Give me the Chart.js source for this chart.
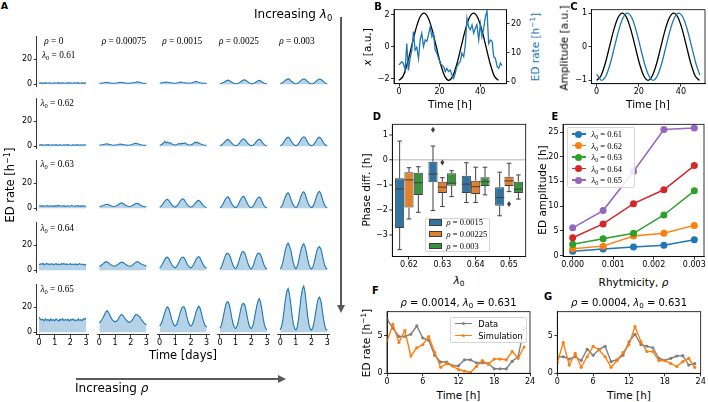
<!DOCTYPE html>
<html>
<head>
<meta charset="utf-8">
<title>ED rate model figure</title>
<script src="https://cdn.jsdelivr.net/npm/chart.js@4.4.1/dist/chart.umd.min.js"></script>
<style>
  html, body { margin: 0; padding: 0; background: #fff; }
  #fig { position: relative; width: 708px; height: 402px; overflow: hidden; font-family: "DejaVu Sans", sans-serif; color: #000; }
  #fig canvas { position: absolute; }
  .t { position: absolute; white-space: nowrap; line-height: 1; }
  .t sub { font-size: 70%; vertical-align: -0.3em; line-height: 0; }
  .t sup { font-size: 70%; vertical-align: 0.5em; line-height: 0; }
  .serif { font-family: "Liberation Serif", "DejaVu Serif", serif; }
  .lg { position: absolute; border: 1px solid #d5d5d5; border-radius: 2px; background: rgba(255,255,255,0.85); box-sizing: border-box; }
  .shape { position: absolute; box-sizing: border-box; }
</style>
</head>
<body>
<div id="fig"></div>
<script>
// ====================== DATA ======================
// Panel A: simulated ED rate [1/h] over 3 days (samples every 2 h)
const aRhoValues = ['0', '0.00075', '0.0015', '0.0025', '0.003'];
const aLambdaValues = ['0.61', '0.62', '0.63', '0.64', '0.65'];
const aHours = [0,2,4,6,8,10,12,14,16,18,20,22,24,26,28,30,32,34,36,38,40,42,44,46,48,50,52,54,56,58,60,62,64,66,68,70,72];
const aTickDays = [0, 1, 2, 3];
const aTickRate = [0, 20];

const edRateL061 = [
  [1.0,1.2,0.8,1.1,0.9,1.3,1.0,0.8,1.2,1.1,0.9,1.0, 1.2,0.9,1.1,1.3,0.8,1.0,1.2,1.1,0.9,1.0,1.3,0.9, 1.1,1.0,0.8,1.2,1.0,1.1,1.3,0.9,1.0,1.2,0.8,1.1, 1.0],
  [0.8,0.9,1.0,1.1,1.3,1.4,1.5,1.3,1.1,1.0,0.9,0.8, 0.9,1.0,1.2,1.4,1.6,1.5,1.4,1.2,1.0,0.9,0.8,0.9, 1.0,1.1,1.3,1.5,1.7,2.0,1.8,1.5,1.2,1.0,0.9,0.8, 0.7],
  [0.9,1.0,1.2,1.4,1.6,1.8,1.7,1.5,1.3,1.1,1.0,0.9, 0.9,1.0,1.2,1.5,1.7,1.6,1.4,1.3,1.1,1.0,0.9,1.0, 1.1,1.3,1.6,2.0,2.3,1.9,1.6,1.3,1.1,1.0,0.9,0.8, 0.7],
  [0.6,0.8,1.2,1.7,2.3,2.9,3.3,3.0,2.4,1.7,1.1,0.7, 0.5,0.6,0.9,1.4,2.1,2.8,3.4,3.6,3.1,2.3,1.5,0.8, 0.5,0.5,0.8,1.3,2.0,2.6,3.1,2.8,2.1,1.4,0.9,0.6, 0.5],
  [0.5,0.8,1.4,2.3,3.2,3.9,4.5,4.0,3.0,2.0,1.2,0.6, 0.4,0.6,1.2,2.1,3.1,3.9,4.4,4.1,3.2,2.2,1.3,0.7, 0.4,0.6,1.1,1.9,2.9,3.7,4.2,4.0,3.3,2.3,1.3,0.7, 0.4]
];
const edRateL062 = [
  [1.2,1.0,1.3,1.1,0.9,1.2,1.0,1.3,1.1,0.9,1.2,1.0, 1.1,1.3,0.9,1.1,1.2,1.0,0.9,1.2,1.1,1.0,1.3,1.1, 0.9,1.0,1.2,1.1,0.9,1.3,1.0,1.1,1.2,0.9,1.1,1.0, 1.2],
  [1.0,1.1,1.2,1.4,1.6,1.8,1.9,1.7,1.5,1.2,1.0,0.9, 1.0,1.1,1.3,1.6,1.8,1.7,1.5,1.3,1.1,1.0,0.9,1.0, 1.2,1.5,1.9,2.2,2.4,2.1,1.8,1.5,1.2,1.0,0.9,0.8, 0.9],
  [0.9,1.2,1.8,2.6,3.9,2.8,3.4,2.5,3.0,2.0,1.6,1.3, 1.1,1.4,1.9,2.2,1.8,2.5,2.1,2.8,2.3,1.7,1.3,1.1, 1.2,1.6,2.2,3.5,2.6,3.3,2.7,2.1,1.6,1.2,1.0,0.9, 0.8],
  [0.5,0.9,1.7,2.8,4.0,5.0,5.5,4.9,3.7,2.5,1.5,0.8, 0.5,0.7,1.5,2.8,4.2,5.3,6.0,5.5,4.2,2.8,1.6,0.8, 0.5,0.7,1.4,2.6,3.9,5.0,5.6,5.2,3.8,2.4,1.3,0.7, 0.4],
  [0.5,1.0,2.2,3.8,5.4,6.7,7.3,6.5,4.8,3.1,1.7,0.8, 0.5,0.9,2.1,3.9,5.6,7.0,7.6,7.1,5.3,3.3,1.7,0.8, 0.5,0.8,2.0,3.7,5.4,6.7,7.3,6.6,4.9,3.0,1.6,0.8, 0.5]
];
const edRateL063 = [
  [1.8,2.0,1.6,2.1,1.7,1.9,2.2,1.6,1.8,2.0,1.7,1.9, 1.6,2.1,1.8,2.3,2.0,1.7,1.9,2.1,1.6,1.8,2.0,1.7, 1.9,2.2,1.8,1.6,2.0,1.8,2.1,1.7,1.9,1.6,2.0,1.8, 1.7],
  [1.4,1.6,1.9,2.2,2.6,3.0,3.2,2.9,2.4,2.0,1.7,1.5, 1.6,2.0,2.6,3.3,4.0,4.3,3.9,3.2,2.5,2.0,1.7,1.5, 1.6,2.0,2.6,3.2,3.8,4.0,3.6,2.9,2.2,1.8,1.5,1.3, 1.2],
  [0.8,1.5,2.8,4.3,5.8,6.9,7.2,6.3,4.7,3.2,2.0,1.2, 1.0,1.6,2.9,4.6,6.2,7.3,7.6,6.6,4.8,3.1,1.9,1.2, 1.0,1.4,2.4,3.7,5.0,6.0,6.3,5.6,4.2,2.8,1.7,1.0, 0.7],
  [0.5,1.2,2.8,4.9,7.0,8.6,9.2,8.1,5.9,3.7,2.0,1.0, 0.6,1.2,2.9,5.2,7.5,9.0,9.6,8.5,6.1,3.8,2.0,1.0, 0.6,1.1,2.6,4.8,6.9,8.4,9.1,8.3,6.0,3.6,1.8,0.9, 0.5],
  [0.5,1.4,3.5,6.5,9.4,11.5,12.4,10.8,7.8,4.8,2.5,1.1, 0.6,1.5,3.8,7.0,10.3,12.4,13.2,11.6,8.2,4.9,2.5,1.1, 0.6,1.4,3.6,6.9,10.2,12.6,13.6,12.0,8.5,5.0,2.4,1.0, 0.5]
];
const edRateL064 = [
  [4.5,5.2,4.8,5.6,4.4,5.0,5.5,4.6,5.1,4.7,5.3,4.4, 4.9,5.4,4.6,5.0,4.5,5.3,4.8,5.5,4.6,5.1,4.7,4.9, 5.4,4.5,5.0,4.6,5.2,4.4,4.9,5.3,4.7,5.0,4.4,4.8, 4.1],
  [3.0,3.6,4.4,5.3,6.2,6.9,6.6,6.0,5.1,4.3,3.8,3.4, 3.3,3.8,4.5,5.3,6.0,6.5,6.3,5.7,4.9,4.2,3.7,3.3, 3.4,3.9,4.7,5.6,6.5,7.0,6.4,5.9,5.1,4.6,4.2,3.9, 3.2],
  [2.0,3.0,4.8,6.9,8.8,10.2,10.5,9.4,7.3,5.2,3.5,2.4, 2.0,3.0,4.9,7.1,9.0,10.3,10.6,9.5,7.4,5.2,3.5,2.4, 2.0,2.9,4.7,6.9,9.0,10.5,11.0,9.8,7.5,5.2,3.3,2.2, 1.8],
  [1.0,2.4,5.0,8.3,11.3,13.2,13.6,12.8,10.4,7.0,4.0,2.1, 1.2,2.6,5.6,9.2,12.5,14.6,15.0,13.8,10.8,7.1,4.0,2.0, 1.1,2.4,5.2,8.7,11.8,13.5,13.7,12.6,10.0,6.6,3.6,1.8, 1.0],
  [1.0,2.8,6.5,11.5,16.5,20.2,21.8,19.5,16.8,11.2,6.0,2.7, 1.3,3.0,7.0,12.3,17.0,20.0,21.2,19.0,14.6,9.0,4.5,2.0, 1.1,2.6,6.3,11.0,15.5,18.2,18.8,17.4,13.5,8.4,4.2,1.8, 1.0]
];
const edRateL065 = [
  [12.0,10.6,9.8,10.5,9.2,10.8,9.6,10.3,9.0,10.7,9.5,10.1, 9.3,10.6,9.8,9.1,10.4,9.7,10.9,9.4,10.2,9.6,10.5,9.0, 10.3,9.8,10.6,9.4,10.0,9.2,10.7,9.6,10.1,9.3,10.8,10.2, 11.5],
  [7.5,8.8,10.2,12.0,14.3,16.5,17.4,15.6,13.8,11.5,10.0,9.0, 8.3,8.8,9.8,11.6,13.4,14.3,13.6,12.0,10.5,9.2,8.4,8.0, 8.5,9.6,11.2,13.0,14.4,14.0,13.2,12.3,10.6,9.0,7.8,6.8, 6.0],
  [5.2,6.5,9.0,12.5,16.2,19.0,20.4,19.0,15.6,11.4,8.0,5.8, 5.0,6.3,9.2,13.0,16.8,19.6,20.6,20.0,16.5,12.0,8.2,5.8, 5.0,6.2,9.0,12.8,16.6,19.4,20.8,19.2,15.4,11.0,7.4,5.0, 4.2],
  [3.5,5.5,9.5,14.8,20.0,23.6,24.5,22.8,18.0,12.0,7.0,4.0, 3.0,4.8,8.6,13.6,18.8,22.4,23.2,22.0,17.6,11.8,6.8,3.8, 3.0,4.6,8.8,14.5,20.2,24.6,27.0,24.8,19.0,12.0,6.4,3.2, 2.2],
  [2.0,4.6,10.0,18.0,26.5,32.8,35.0,31.0,23.0,14.0,7.0,3.0, 1.8,4.2,10.5,19.5,28.5,35.0,37.0,32.0,22.5,13.0,6.2,2.6, 1.8,3.8,8.5,15.0,21.5,26.5,28.2,26.0,19.5,11.5,5.5,2.4, 1.6]
];

// Panel B: oscillator x [a.u.] and ED rate [1/h] vs time [h]
const bOscTime = [0,2.04,4.08,6.13,8.17,10.21,12.25,14.29,16.33,18.38,20.42,22.46,24.5,26.54,28.58,30.63,32.67,34.71,36.75,38.79,40.83,42.88,44.92,46.96,49];
const bOscX = [-2.1,-1.82,-1.05,0,1.05,1.82,2.1,1.82,1.05,0,-1.05,-1.82,-2.1,-1.82,-1.05,0,1.05,1.82,2.1,1.82,1.05,0,-1.05,-1.82,-2.1];
const bRateTime = [0,1.3,2.1,3.0,3.8,4.6,5.4,6.3,7.1,7.9,8.75,9.6,10.4,11.2,12.05,12.9,13.7,14.5,15.35,16.2,17.0,17.8,18.65,19.5,20.3,21.1,22.0,22.8,23.6,24.4,25.25,26.1,26.9,27.7,28.5,29.4,30.2,31.0,31.9,32.7,33.5,34.3,35.15,36.0,36.8,37.6,38.4,39.3,40.1,40.9,41.75,42.6,43.4,44.2,45.05,45.9,46.7,47.5,48.4,49.2,50.0,50.8];
const bRate = [5.9,7.0,6.4,4.1,13.3,4.0,8.0,11.0,17.4,11.0,12.0,8.0,14.5,16.8,12.2,14.5,14.0,16.2,19.0,15.6,16.8,11.0,9.9,8.2,6.4,5.9,5.3,3.6,4.7,3.6,4.1,2.4,1.3,3.0,5.3,6.4,7.0,9.9,8.7,12.8,22.0,19.0,18.0,19.7,16.8,18.5,19.7,14.5,20.0,15.6,18.5,22.5,24.5,13.3,14.5,14.0,8.7,8.2,5.3,4.7,6.5,5.6];
const bTicksX = [0, 20, 40];
const bTicksLeft = [-2, 0, 2];
const bTicksRight = [0, 10, 20];

// Panel C: normalised amplitudes vs time [h]
const cOscTime = [0,2.03,4.07,6.1,8.13,10.17,12.2,14.23,16.27,18.3,20.33,22.37,24.4,26.43,28.47,30.5,32.53,34.57,36.6,38.63,40.67,42.7,44.73,46.77,48.8];
const cOsc = [-1,-0.866,-0.5,0,0.5,0.866,1,0.866,0.5,0,-0.5,-0.866,-1,-0.866,-0.5,0,0.5,0.866,1,0.866,0.5,0,-0.5,-0.866,-1];
const cRateTime = [0,2.4,4.43,6.47,8.5,10.53,12.57,14.6,16.63,18.67,20.7,22.73,24.77,26.8,28.83,30.87,32.9,34.93,36.97,39.0,41.03,43.07,45.1,47.13,49.0];
const cRate = [-0.815,-1,-0.866,-0.5,0,0.5,0.866,1,0.866,0.5,0,-0.5,-0.866,-1,-0.866,-0.5,0,0.5,0.866,1,0.866,0.5,0,-0.5,-0.843];
const cTicksX = [0, 20, 40];
const cTicksY = [-1, 0, 1];

// Panel D: phase difference [h] box statistics [lowWhisker, Q1, median, Q3, highWhisker]
const dLambdaLabels = ['0.62', '0.63', '0.64', '0.65'];
const dRhoLabels = ['0.0015', '0.00225', '0.003'];
const dStats0015 = [[-3.6,-2.73,-1.17,-0.73,0.76], [-2.03,-0.89,-0.56,-0.07,0.56], [-1.71,-1.33,-0.97,-0.63,-0.11], [-2.24,-1.84,-1.51,-1.09,-0.49]];
const dStats00225 = [[-2.37,-1.91,-0.8,-0.49,-0.31], [-1.87,-1.33,-1.09,-0.87,-0.71], [-1.71,-1.37,-1.07,-0.83,-0.29], [-1.27,-1.04,-0.84,-0.67,-0.13]];
const dStats003 = [[-2.1,-1.41,-0.91,-0.51,-0.27], [-1.47,-1.03,-0.93,-0.53,-0.43], [-1.4,-1.04,-0.87,-0.69,-0.29], [-1.57,-1.33,-1.17,-0.87,-0.6]];
const dOut0015 = [[], [1.22], [], []];
const dOut00225 = [[], [-0.1], [], [-1.77]];
const dOut003 = [[], [], [], []];
const dTicksY = [-3, -2, -1, 0, 1];

// Panel E: ED amplitude [h] vs rhythmicity
const eRho = [0, 0.00075, 0.0015, 0.00225, 0.003];
const eLambdaLabels = ['0.61', '0.62', '0.63', '0.64', '0.65'];
const eAmp061 = [0.85, 1.3, 1.7, 2.1, 3.2];
const eAmp062 = [1.35, 1.9, 3.95, 4.5, 6.1];
const eAmp063 = [2.3, 3.4, 4.5, 8.2, 13.1];
const eAmp064 = [3.6, 6.4, 10.5, 13.3, 18.2];
const eAmp065 = [5.6, 9.1, 17.0, 25.5, 25.8];
const eTicksX = [0, 0.001, 0.002, 0.003];
const eTicksY = [0, 5, 10, 15, 20, 25];

// Panels F, G: hourly ED rate, data vs simulation
const fgHours = [0,1,2,3,4,5,6,7,8,9,10,11,12,13,14,15,16,17,18,19,20,21,22,23];
const fData = [7.2,6.0,4.9,4.9,5.2,6.3,4.7,4.4,2.4,1.5,1.5,1.0,1.0,1.8,1.8,1.4,1.4,1.3,0.6,0.6,0.6,1.6,2.2,6.0];
const fSim  = [4.3,6.5,4.1,5.7,2.3,3.4,3.8,4.9,2.8,0.8,1.3,1.0,0.5,0.3,0.1,0.9,1.7,1.2,1.9,1.9,1.8,2.9,2.0,3.5];
const gData = [2.2,2.2,1.9,2.2,1.7,3.2,2.4,3.2,3.6,1.55,1.8,2.4,4.2,5.2,3.8,3.6,3.4,2.0,1.7,2.0,2.3,2.35,1.1,1.3];
const gSim  = [1.4,4.1,1.1,2.65,0.8,2.2,3.6,3.1,2.2,0.8,1.7,2.75,3.8,6.2,4.2,2.9,2.9,1.7,1.7,1.3,0.9,1.55,2.0,0.8];
const fgTicksX = [0, 6, 12, 18, 24];
const fgTicksY = [0, 5];

// ====================== STYLE ======================
const C = {blue:'#1f77b4', orange:'#ff7f0e', green:'#2ca02c', red:'#d62728', purple:'#9467bd', gray:'#7f7f7f'};
const boxCols = ['#3274a1', '#e1812c', '#3a923a'];
const eCols = [C.blue, C.orange, C.green, C.red, C.purple];

Chart.defaults.font.family = '"DejaVu Sans", sans-serif';
Chart.defaults.font.size = 8;
Chart.defaults.color = '#000';

const fig = document.getElementById('fig');
const fmt = v => String(v).replace('-', '\u2212');

function makeChart(frame, pads, sides, config) {
  const cl = Math.floor(frame.l - pads.l), ct = Math.floor(frame.t - pads.t);
  const cr = Math.ceil(frame.r + pads.r), cb = Math.ceil(frame.b + pads.b);
  const W = cr - cl, H = cb - ct;
  const pl = frame.l - cl, pt = frame.t - ct, pr = cr - frame.r, pb = cb - frame.b;
  const cv = document.createElement('canvas');
  cv.width = W; cv.height = H;
  cv.style.left = cl + 'px'; cv.style.top = ct + 'px';
  cv.style.width = W + 'px'; cv.style.height = H + 'px';
  fig.appendChild(cv);
  const o = config.options || (config.options = {});
  o.responsive = false; o.maintainAspectRatio = false; o.animation = false; o.devicePixelRatio = 1; o.events = [];
  o.plugins = Object.assign({legend: {display: false}, tooltip: {enabled: false}}, o.plugins || {});
  o.layout = {padding: {left: sides.left ? 0 : pl, right: sides.right ? 0 : pr, top: pt, bottom: sides.bottom ? 0 : pb}};
  const fix = (key, prop, val) => {
    o.scales[key].afterFit = s => { s[prop] = val; s.paddingLeft = 0; s.paddingRight = 0; s.paddingTop = 0; s.paddingBottom = 0; };
  };
  if (sides.left) fix(sides.left, 'width', pl);
  if (sides.right) fix(sides.right, 'width', pr);
  if (sides.bottom) fix(sides.bottom, 'height', pb);
  return new Chart(cv, config);
}

function linAxis(min, max, ticks, labels, extra) {
  return Object.assign({
    type: 'linear', min: min, max: max,
    afterBuildTicks: s => { s.ticks = ticks.map(v => ({value: v})); },
    grid: {display: true, drawOnChartArea: false, drawTicks: true, tickLength: 3, tickWidth: 0.8, tickColor: '#000', color: 'rgba(0,0,0,0)'},
    border: {display: true, color: '#000', width: 0.8},
    ticks: {color: '#000', font: {size: 8, lineHeight: 1}, padding: 1.5, maxRotation: 0, minRotation: 0, autoSkip: false,
            callback: (v, i) => labels[i]}
  }, extra || {});
}
function hiddenAxis(min, max) { return {type: 'linear', display: false, min: min, max: max}; }
const pts = (xs, ys) => xs.map((x, i) => ({x: x, y: ys[i]}));

const framePlugin = {
  id: 'frame',
  afterDraw(chart) {
    const a = chart.chartArea, ctx = chart.ctx;
    ctx.save(); ctx.strokeStyle = '#000'; ctx.lineWidth = 0.8;
    ctx.strokeRect(a.left, a.top, a.right - a.left, a.bottom - a.top);
    ctx.restore();
  }
};

// ====================== PANEL A ======================
const aRows = [edRateL061, edRateL062, edRateL063, edRateL064, edRateL065];
const aColLeft = [36.7, 97.0, 157.3, 217.6, 277.9];
const aRowZero = [84.3, 146.3, 208.3, 270.3, 332.3];
aRows.forEach((rowData, r) => {
  rowData.forEach((vals, c) => {
    const frame = {l: aColLeft[c], r: aColLeft[c] + 51.7, t: aRowZero[r] - 48.1, b: aRowZero[r] + 2.5};
    const showY = c === 0, showX = r === aRows.length - 1;
    makeChart(frame, {l: showY ? 16 : 2, r: 4, t: 6, b: showX ? 14 : 2},
      {left: showY ? 'y' : null, bottom: showX ? 'x' : null}, {
      type: 'line',
      data: {datasets: [{
        data: pts(aHours.map(h => h / 24), vals),
        borderColor: C.blue, borderWidth: 1.1, backgroundColor: 'rgba(31,119,180,0.33)',
        fill: 'origin', pointRadius: 0, tension: 0
      }]},
      options: {scales: {
        x: showX ? linAxis(-0.15, 3.15, aTickDays, aTickDays.map(String)) : hiddenAxis(-0.15, 3.15),
        y: showY ? linAxis(-2, 38.5, aTickRate, aTickRate.map(String)) : hiddenAxis(-2, 38.5)
      }}
    });
  });
});

// ====================== PANEL B ======================
makeChart({l: 394, r: 506.5, t: 9.7, b: 83.7}, {l: 18, r: 18, t: 6, b: 14}, {left: 'y', right: 'y2', bottom: 'x'}, {
  type: 'line',
  data: {datasets: [
    {data: pts(bRateTime, bRate), yAxisID: 'y2', borderColor: C.blue, borderWidth: 1.3, pointRadius: 0, tension: 0, order: 0},
    {data: pts(bOscTime, bOscX), yAxisID: 'y', borderColor: '#000', borderWidth: 1.3, pointRadius: 0, cubicInterpolationMode: 'monotone', order: 1}
  ]},
  options: {scales: {
    x: linAxis(-2.5, 53, bTicksX, bTicksX.map(fmt)),
    y: linAxis(-2.31, 2.31, bTicksLeft, bTicksLeft.map(fmt)),
    y2: linAxis(-0.59, 24.93, bTicksRight, bTicksRight.map(fmt), {position: 'right'})
  }},
  plugins: [framePlugin]
});

// ====================== PANEL C ======================
makeChart({l: 591.5, r: 705, t: 9.7, b: 83.7}, {l: 16, r: 3, t: 6, b: 14}, {left: 'y', bottom: 'x'}, {
  type: 'line',
  data: {datasets: [
    {data: pts(cRateTime, cRate), borderColor: C.blue, borderWidth: 1.3, pointRadius: 0, cubicInterpolationMode: 'monotone', order: 0},
    {data: pts(cOscTime, cOsc), borderColor: '#000', borderWidth: 1.3, pointRadius: 0, cubicInterpolationMode: 'monotone', order: 1}
  ]},
  options: {scales: {
    x: linAxis(-2.45, 51.45, cTicksX, cTicksX.map(fmt)),
    y: linAxis(-1.1, 1.1, cTicksY, cTicksY.map(fmt))
  }},
  plugins: [framePlugin]
});

// ====================== PANEL D ======================
const dStatsAll = [dStats0015, dStats00225, dStats003];
const dOutAll = [dOut0015, dOut00225, dOut003];
const dBoxPlugin = {
  id: 'dbox',
  afterDatasetsDraw(chart) {
    const ctx = chart.ctx, ys = chart.scales.y;
    const py = v => ys.getPixelForValue(v);
    dStatsAll.forEach((stats, di) => {
      const meta = chart.getDatasetMeta(di);
      meta.data.forEach((bar, i) => {
        const s = stats[i];
        const x = bar.x, hw = bar.width / 2;
        ctx.save();
        ctx.strokeStyle = '#3f3f3f'; ctx.lineWidth = 1;
        ctx.beginPath();
        ctx.moveTo(x - hw, py(s[2])); ctx.lineTo(x + hw, py(s[2]));
        ctx.moveTo(x, py(s[3])); ctx.lineTo(x, py(s[4]));
        ctx.moveTo(x, py(s[1])); ctx.lineTo(x, py(s[0]));
        ctx.moveTo(x - hw / 2, py(s[4])); ctx.lineTo(x + hw / 2, py(s[4]));
        ctx.moveTo(x - hw / 2, py(s[0])); ctx.lineTo(x + hw / 2, py(s[0]));
        ctx.stroke();
        ctx.fillStyle = '#3f3f3f';
        dOutAll[di][i].forEach(v => {
          const yy = py(v);
          ctx.beginPath();
          ctx.moveTo(x, yy - 3); ctx.lineTo(x + 2, yy); ctx.lineTo(x, yy + 3); ctx.lineTo(x - 2, yy);
          ctx.closePath(); ctx.fill();
        });
        ctx.restore();
      });
    });
  }
};
makeChart({l: 392.3, r: 525.7, t: 124.3, b: 256.5}, {l: 16, r: 4, t: 6, b: 14}, {left: 'y', bottom: 'x'}, {
  type: 'bar',
  data: {labels: dLambdaLabels, datasets: dStatsAll.map((stats, k) => ({
    data: stats.map(s => [s[1], s[3]]),
    backgroundColor: boxCols[k], borderColor: '#3f3f3f', borderWidth: 1, borderSkipped: false,
    categoryPercentage: 0.84, barPercentage: 0.98
  }))},
  options: {scales: {
    x: {type: 'category', offset: true,
        grid: {display: true, drawOnChartArea: false, drawTicks: true, tickLength: 3, tickWidth: 0.8, tickColor: '#000', offset: false, color: 'rgba(0,0,0,0)'},
        border: {display: true, color: '#000', width: 0.8},
        ticks: {color: '#000', font: {size: 8, lineHeight: 1}, padding: 1.5, maxRotation: 0, autoSkip: false}},
    y: linAxis(-3.876, 1.434, dTicksY, dTicksY.map(fmt), {
        grid: {display: true, drawOnChartArea: true, drawTicks: true, tickLength: 3, tickWidth: 0.8, tickColor: '#000',
               color: c => (c.tick && c.tick.value === 0) ? '#cccccc' : 'rgba(0,0,0,0)',
               lineWidth: c => (c.tick && c.tick.value === 0) ? 1.5 : 0}
    })
  }},
  plugins: [dBoxPlugin, framePlugin]
});

// ====================== PANEL E ======================
const eAmpAll = [eAmp061, eAmp062, eAmp063, eAmp064, eAmp065];
makeChart({l: 563, r: 704, t: 124.3, b: 256.5}, {l: 16, r: 4, t: 6, b: 14}, {left: 'y', bottom: 'x'}, {
  type: 'line',
  data: {datasets: eAmpAll.map((amp, k) => ({
    data: pts(eRho, amp), borderColor: eCols[k], backgroundColor: eCols[k], borderWidth: 1.5,
    pointRadius: 3.5, pointBorderWidth: 0, pointBackgroundColor: eCols[k], tension: 0, order: 5 - k
  }))},
  options: {scales: {
    x: linAxis(-0.000239, 0.003239, eTicksX, eTicksX.map(v => v.toFixed(3))),
    y: linAxis(-0.2, 26.56, eTicksY, eTicksY.map(String))
  }},
  plugins: [framePlugin]
});

// ====================== PANELS F, G ======================
function fgChart(frame, data, sim) {
  return makeChart(frame, {l: 12, r: 7, t: 6, b: 14}, {left: 'y', bottom: 'x'}, {
    type: 'line',
    data: {datasets: [
      {data: pts(fgHours, sim), borderColor: C.orange, backgroundColor: C.orange, borderWidth: 1.4, pointRadius: 1.6, pointBorderWidth: 0, tension: 0, order: 0},
      {data: pts(fgHours, data), borderColor: C.gray, backgroundColor: C.gray, borderWidth: 1.4, pointRadius: 1.6, pointBorderWidth: 0, tension: 0, order: 1}
    ]},
    options: {scales: {
      x: linAxis(0, 24, fgTicksX, fgTicksX.map(String)),
      y: linAxis(0, 8.2, fgTicksY, fgTicksY.map(String))
    }},
    plugins: [framePlugin]
  });
}
fgChart({l: 387, r: 530, t: 311.7, b: 373.3}, fData, fSim);
fgChart({l: 557.3, r: 700.7, t: 311.7, b: 373.3}, gData, gSim);

// ====================== TEXT & DECORATION ======================
function txt(html, x, y, o) {
  o = o || {};
  const d = document.createElement('div');
  d.className = 't' + (o.cls ? ' ' + o.cls : '');
  d.innerHTML = html;
  d.style.left = x + 'px'; d.style.top = y + 'px';
  d.style.fontSize = (o.size || 10.5) + 'px';
  if (o.bold) d.style.fontWeight = 'bold';
  if (o.color) d.style.color = o.color;
  const ax = (o.ax === undefined) ? 50 : o.ax;
  d.style.transform = 'translate(-' + ax + '%, -50%)' + (o.rot ? ' rotate(' + o.rot + 'deg)' : '');
  fig.appendChild(d);
  return d;
}
function shape(l, t, w, h, css) {
  const d = document.createElement('div');
  d.className = 'shape';
  d.style.cssText = 'left:' + l + 'px;top:' + t + 'px;width:' + w + 'px;height:' + h + 'px;' + (css || '');
  fig.appendChild(d);
  return d;
}
function legendBox(l, t, w, h) {
  const d = document.createElement('div');
  d.className = 'lg';
  d.style.left = l + 'px'; d.style.top = t + 'px'; d.style.width = w + 'px'; d.style.height = h + 'px';
  fig.appendChild(d);
}
const RHO = '<i>\u03c1</i>', LAM = '<i>\u03bb</i><sub>0</sub>';

// panel letters
txt('A', 4.5, 6, {bold: true, size: 9.5});
txt('B', 378, 6.5, {bold: true, size: 10});
txt('C', 574, 6.5, {bold: true, size: 10});
txt('D', 377, 117, {bold: true, size: 10});
txt('E', 555, 117, {bold: true, size: 10});
txt('F', 375.5, 291, {bold: true, size: 10});
txt('G', 548, 296.5, {bold: true, size: 10});

// panel A annotations
const aRhoX = [44.3, 101.7, 162.3, 219, 279.3];
aRhoValues.forEach((v, i) => txt(RHO + ' = ' + v, aRhoX[i], 41.7, {ax: 0, size: 9.3, cls: 'serif'}));
const aLamY = [56, 104, 165, 229, 290];
aLambdaValues.forEach((v, i) => txt(LAM + ' = ' + v, i === 0 ? 42 : 40.5, aLamY[i], {ax: 0, size: 9.3, cls: 'serif'}));
txt('ED rate [h<sup>\u22121</sup>]', 11, 185, {size: 11.5, rot: -90});
txt('Time [days]', 183, 356, {size: 11.5});
txt('Increasing ' + LAM, 254, 14, {ax: 0, size: 12});
txt('Increasing ' + RHO, 75, 388, {ax: 0, size: 12});
shape(340, 17, 2, 289, 'background:#5a5a5a');
shape(337, 304.5, 0, 0, 'box-sizing:content-box;border-left:4px solid transparent;border-right:4px solid transparent;border-top:8px solid #5a5a5a');
shape(76, 378, 204, 2, 'background:#5a5a5a');
shape(278, 375, 0, 0, 'box-sizing:content-box;border-top:4px solid transparent;border-bottom:4px solid transparent;border-left:8px solid #5a5a5a');

// panel B, C labels
txt('<i>x</i> [a.u.]', 366.5, 46.7, {rot: -90});
txt('ED rate [h<sup>\u22121</sup>]', 535, 46.7, {rot: -90, color: C.blue});
txt('Time [h]', 450, 104);
txt('Amplitude [a.u.]', 563.5, 48, {rot: -90});
txt('Time [h]', 648, 104);

// panel D labels + legend
txt('Phase diff. [h]', 365.5, 190, {rot: -90});
txt(LAM, 459, 280);
legendBox(425, 218.3, 65, 33.4);
dRhoLabels.forEach((v, i) => {
  const y = 222.3 + i * 11.6;
  shape(428.5, y - 3, 13, 6.5, 'background:' + boxCols[i] + ';border:0.8px solid #3f3f3f');
  txt(RHO + ' = ' + v, 446.5, y, {ax: 0, size: 8.5, cls: 'serif'});
});

// panel E labels + legend
txt('ED amplitude [h]', 541.5, 190, {rot: -90});
txt('Rhytmicity, ' + RHO, 633.5, 282);
legendBox(566.7, 126.7, 68.3, 61.6);
eLambdaLabels.forEach((v, i) => {
  const y = 134 + i * 11.5;
  shape(571.7, y - 0.75, 14, 1.5, 'background:' + eCols[i]);
  shape(575.2, y - 3.5, 7, 7, 'background:' + eCols[i] + ';border-radius:50%');
  txt(LAM + ' = ' + v, 591.5, y, {ax: 0, size: 8.5, cls: 'serif'});
});

// panels F, G labels + legend
txt(RHO + ' = 0.0014, ' + LAM + ' = 0.631', 458.5, 303, {size: 10});
txt(RHO + ' = 0.0004, ' + LAM + ' = 0.631', 629, 303, {size: 10});
txt('ED rate [h<sup>\u22121</sup>]', 366, 342.5, {rot: -90});
txt('Time [h]', 458.5, 395);
txt('Time [h]', 629, 395);
legendBox(450, 316.7, 76.7, 26.6);
[['Data', C.gray], ['Simulation', C.orange]].forEach((e, i) => {
  const y = 323.5 + i * 12;
  shape(455, y - 0.7, 16.7, 1.4, 'background:' + e[1]);
  shape(461.7, y - 1.6, 3.2, 3.2, 'background:' + e[1] + ';border-radius:50%');
  txt(e[0], 478.3, y, {ax: 0, size: 8.3});
});
</script>
</body>
</html>
